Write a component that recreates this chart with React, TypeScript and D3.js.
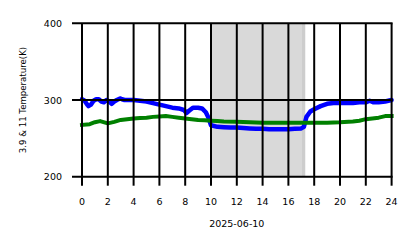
import React from "react";
import * as d3 from "d3";

const blueHours = [0,0.2,0.4,0.5,0.7,0.9,1.1,1.3,1.5,1.7,1.9,2.1,2.3,2.5,2.7,2.95,3.1,3.3,3.6,4,4.5,5,5.5,6,6.5,7,7.5,7.9,8.1,8.3,8.6,9,9.3,9.6,9.8,10,10.5,11,11.5,12,12.5,13,13.5,14,14.5,15,15.5,16,16.5,17,17.2,17.4,17.7,18,18.5,19,19.5,20,20.5,21,21.5,22,22.3,22.6,23,23.5,24];
const blueTemps = [301,299,294,292,294,299,301,301,298,297,300,298,295,298,300,302,301,300,300,300,299,298,296,294,292,290,289,287,283,286,290,290,289,284,277,267,265,264.5,264,264,263.5,263,262.5,262.5,262,262,262,262,262.5,263,265,278,285,288,292,295,296,296,296,296,297,297,299,297,297,298,300];

const greenHours = [0,0.6,1,1.4,2,2.5,3,3.5,4,4.5,5,5.5,6,6.5,7,7.5,8,8.5,9,9.5,10,10.5,11,12,13,14,15,16,17,18,19,20,21,21.5,22,22.5,23,23.5,24];
const greenTemps = [267.5,268.5,271,272.5,269.5,271.5,274,275,276,276.5,277,278,278.5,279,278,277,276,275,274,273.5,273,272.5,272,271.5,271,270.5,270.5,270.5,270.5,270.5,270.5,271,272,273,275,276,277,279,279];

const xTicks = [0,2,4,6,8,10,12,14,16,18,20,22,24];
const yTicks = [200,300,400];
const shadeRange = [10, 17.3];
const dateLabel = "2025-06-10";
const yLabel = "3.9 & 11 Temperature(K)";

export default function App() {
  const W = 418, H = 248;
  const x = d3.scaleLinear().domain([0, 24]).range([82, 391.6]);
  const y = d3.scaleLinear().domain([200, 400]).range([176.7, 23.3]);
  const line = d3.line<[number, number]>().x(d => x(d[0])).y(d => y(d[1]));
  const blue = blueHours.map((h, i) => [h, blueTemps[i]] as [number, number]);
  const green = greenHours.map((h, i) => [h, greenTemps[i]] as [number, number]);
  const font = "DejaVu Sans, sans-serif";
  return (
    <svg width={W} height={H} style={{ position: "absolute", left: 0, top: 0 }}>
      <rect x={0} y={0} width={W} height={H} fill="#fff" />
      <rect x={x(shadeRange[0])} y={y(400)} width={x(shadeRange[1]) - x(shadeRange[0])} height={y(200) - y(400)} fill="#d9d9d9" />
      <rect x={x(17.05)} y={y(400)} width={x(shadeRange[1]) - x(17.05)} height={y(200) - y(400)} fill="#cdcdcd" />
      <path d={line(blue) || ""} fill="none" stroke="#0000ff" strokeWidth={4.5} strokeLinejoin="round" strokeLinecap="round" />
      <path d={line(green) || ""} fill="none" stroke="#008000" strokeWidth={4} strokeLinejoin="round" strokeLinecap="square" />
      {xTicks.map(t => (
        <line key={"xg" + t} x1={x(t)} x2={x(t)} y1={y(400)} y2={y(200) + 9} stroke="#000" strokeWidth={2} />
      ))}
      {yTicks.map(t => (
        <line key={"yg" + t} x1={x(0) - 10} x2={x(24) + 1} y1={y(t)} y2={y(t)} stroke="#000" strokeWidth={2} />
      ))}
      {xTicks.map(t => (
        <text key={"xt" + t} x={x(t)} y={205} fontSize={9.5} fontFamily={font} textAnchor="middle" fill="#000">{t}</text>
      ))}
      {yTicks.map(t => (
        <text key={"yt" + t} x={62} y={y(t) + 3.5} fontSize={9.5} fontFamily={font} textAnchor="end" fill="#000">{t}</text>
      ))}
      <text x={(x(0) + x(24)) / 2} y={227} fontSize={9.5} fontFamily={font} textAnchor="middle" fill="#000">{dateLabel}</text>
      <text transform={`translate(25.5,${(y(200) + y(400)) / 2}) rotate(-90)`} fontSize={8.6} fontFamily={font} textAnchor="middle" fill="#000">{yLabel}</text>
    </svg>
  );
}
